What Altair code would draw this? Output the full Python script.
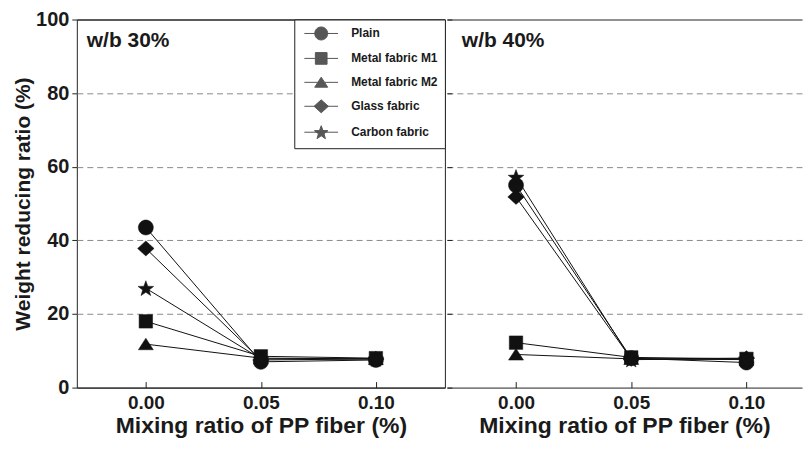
import math
import altair as alt
import pandas as pd

# ---------------- data ----------------
series = ["Plain", "Metal fabric M1", "Metal fabric M2", "Glass fabric", "Carbon fabric"]
mix_ratio = [0.00, 0.05, 0.10]

# w/b 30 %
wb30_plain = [43.5, 7.0, 7.5]
wb30_m1 = [18.0, 8.5, 8.0]
wb30_m2 = [11.8, 8.0, 7.8]
wb30_glass = [37.8, 7.5, 7.8]
wb30_carbon = [27.0, 7.8, 7.8]

# w/b 40 %
wb40_plain = [55.0, 8.0, 6.8]
wb40_m1 = [12.2, 8.2, 7.8]
wb40_m2 = [9.0, 7.8, 7.6]
wb40_glass = [51.8, 7.8, 8.0]
wb40_carbon = [57.2, 7.6, 7.8]

panel_labels = ["w/b 30%", "w/b 40%"]
y_ticks = [0, 20, 40, 60, 80, 100]

FONT = "Liberation Sans"
INK = "#1a1a1a"


def frame(values_by_series):
    rows = []
    for s, vals in zip(series, values_by_series):
        for x, v in zip(mix_ratio, vals):
            rows.append({"series": s, "mix": x, "value": v})
    return pd.DataFrame(rows)


df30 = frame([wb30_plain, wb30_m1, wb30_m2, wb30_glass, wb30_carbon])
df40 = frame([wb40_plain, wb40_m1, wb40_m2, wb40_glass, wb40_carbon])


# ---------------- marker shapes (unit paths) ----------------
def poly(pts):
    return "M" + "L".join(f"{x:.3f},{y:.3f}" for x, y in pts) + "Z"


circle_p = poly([(math.cos(2 * math.pi * k / 36), math.sin(2 * math.pi * k / 36)) for k in range(36)])
square_p = poly([(-0.9, -0.9), (0.9, -0.9), (0.9, 0.9), (-0.9, 0.9)])
triangle_p = poly([(0, -0.8), (1.0, 0.75), (-1.0, 0.75)])
diamond_p = poly([(0, -1.0), (1.1, 0), (0, 1.0), (-1.1, 0)])
star_pts = []
for k in range(10):
    r = 1.1 if k % 2 == 0 else 0.45
    a = -math.pi / 2 + k * math.pi / 5
    star_pts.append((r * math.cos(a), r * math.sin(a) + 0.1))
star_p = poly(star_pts)

shapes = [circle_p, square_p, triangle_p, diamond_p, star_p]
legend_shapes = [p + "M-2.6,0L2.6,0" for p in shapes]

H = 369
grid_dash = {"condition": {"test": "datum.value === 0 || datum.value === 100", "value": []}, "value": [6, 4]}
grid_color = {"condition": {"test": "datum.value === 0 || datum.value === 100", "value": "#222"}, "value": "#8a8a8a"}

x_axis = alt.Axis(values=mix_ratio, format=".2f", offset=-6, tickSize=6, domain=False, grid=False,
                  labelPadding=6, title="Mixing ratio of PP fiber (%)", titlePadding=2)


def panel(df, label, width, xmax, left, text_x):
    x = alt.X("mix:Q", scale=alt.Scale(domain=[-0.03, xmax], nice=False, zero=False), axis=x_axis)
    if left:
        yaxis = alt.Axis(values=y_ticks, tickSize=5, domain=False, labelPadding=3,
                         title="Weight reducing ratio (%)", titlePadding=2,
                         gridDash=grid_dash, gridColor=grid_color)
    else:
        yaxis = alt.Axis(values=y_ticks, tickSize=5, offset=-5, domain=False, labels=False,
                         title=None, gridDash=grid_dash, gridColor=grid_color)
    y = alt.Y("value:Q", scale=alt.Scale(domain=[0, 100], nice=False), axis=yaxis)

    lines = alt.Chart(df).mark_line(color="#111", strokeWidth=1).encode(
        x=x, y=y, detail="series:N", order="mix:Q")
    points = alt.Chart(df).mark_point(filled=True, color="#111", opacity=1, size=225,
                                      stroke="#111", strokeWidth=0.5).encode(
        x=x, y=y,
        shape=alt.Shape("series:N", scale=alt.Scale(domain=series, range=shapes), legend=None))
    text = alt.Chart(pd.DataFrame({"label": [label]})).mark_text(
        align="left", baseline="alphabetic", font=FONT, fontSize=21, fontWeight="bold", color=INK
    ).encode(x=alt.value(text_x), y=alt.value(28), text="label:N")

    layers = [lines, points, text]
    if left:
        leg = alt.Chart(df).transform_filter("false").mark_point(
            filled=True, color="#111", stroke="#111", strokeWidth=1, size=169).encode(
            x=x, y=y,
            shape=alt.Shape("series:N", scale=alt.Scale(domain=series, range=legend_shapes),
                            legend=alt.Legend(orient="none", legendX=218, legendY=0, title=None,
                                              titleFontSize=0, titlePadding=0,
                                              padding=7, strokeColor="#222", fillColor="white",
                                              symbolSize=169, symbolOffset=13, labelOffset=23,
                                              rowPadding=8, labelFont=FONT, labelFontSize=12,
                                              labelFontWeight="bold", labelColor=INK,
                                              symbolStrokeWidth=1)))
        layers.append(leg)
    ch = alt.layer(*layers).resolve_scale(shape="independent").properties(
        width=width, height=H,
        view=alt.ViewBackground(stroke="#222" if left else "transparent", strokeWidth=1))
    return ch


left = panel(df30, panel_labels[0], 369, 0.13, True, 10)
right = panel(df40, panel_labels[1], 356, -0.03 + 356 / 2310, False, 15)

chart = alt.hconcat(left, right, spacing=0).resolve_scale(shape="independent").properties(
    padding={"left": 4, "top": 0, "right": 0, "bottom": 0}
).configure_axis(
    labelFont=FONT, labelFontSize=20, labelFontWeight="bold", labelColor=INK,
    titleFont=FONT, titleFontSize=21, titleFontWeight="bold", titleColor=INK,
    tickColor="#222", tickWidth=1, gridWidth=1
).configure_axisX(titleFontSize=23, labelFontSize=19).configure_view(stroke="#222")

chart.save("out.html", embed_options={"renderer": "svg", "actions": False})
